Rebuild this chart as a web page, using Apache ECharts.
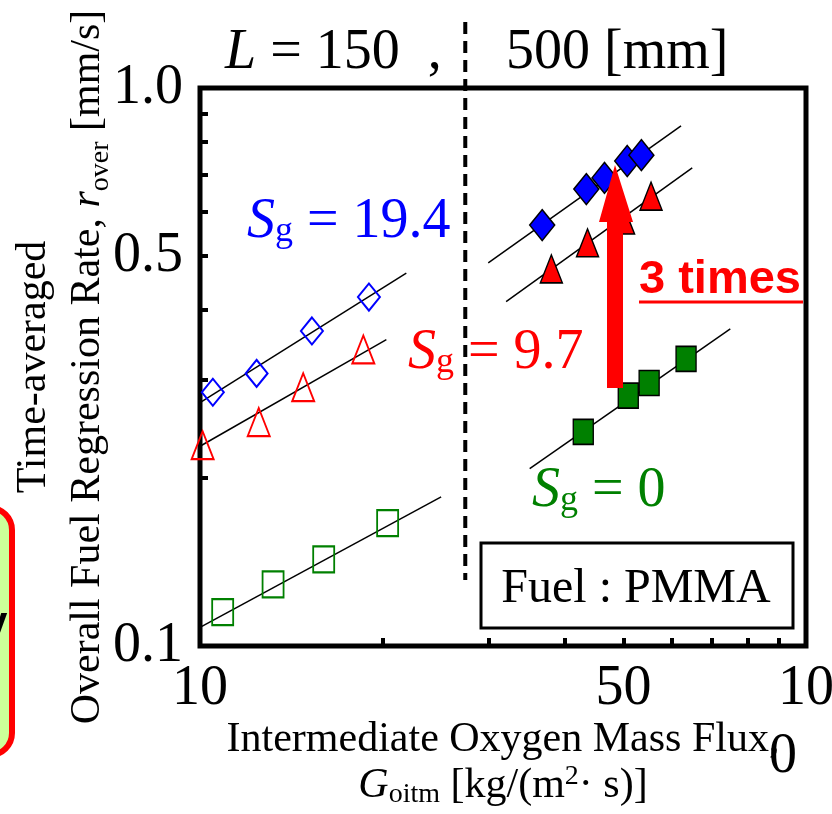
<!DOCTYPE html>
<html lang="en">
<head>
    <meta charset="utf-8"/>
    <title>Regression rate vs oxygen mass flux</title>
    <script src="https://cdn.jsdelivr.net/npm/echarts@6/dist/echarts.min.js"></script>
    <style>
        html, body { margin: 0; padding: 0; background: #fff; }
        #chart { width: 832px; height: 814px; }
    </style>
</head>
<body>
<div id="chart"></div>
<script type="text/javascript">

  // L = 150 mm, open markers
  var blueOpenG = [10.5, 12.4, 15.3, 19.0];
  var blueOpenR = [0.285, 0.308, 0.367, 0.422];
  var redOpenG = [10.1, 12.5, 14.8, 18.6];
  var redOpenR = [0.229, 0.252, 0.291, 0.340];
  var greenOpenG = [10.9, 13.2, 16.0, 20.4];
  var greenOpenR = [0.115, 0.129, 0.143, 0.166];

  // L = 500 mm, filled markers
  var blueFillG = [36.7, 43.4, 46.5, 50.7, 53.5];
  var blueFillR = [0.568, 0.659, 0.690, 0.740, 0.758];
  var redFillG = [38.0, 43.6, 50.0, 55.5];
  var redFillR = [0.474, 0.528, 0.580, 0.640];
  var greenFillG = [42.9, 50.9, 55.1, 63.4];
  var greenFillR = [0.242, 0.281, 0.296, 0.327];

  // fit lines, [G, r] end points
  var blueFit150 = [[10, 0.273], [21.9, 0.466]];
  var redFit150 = [[10, 0.228], [20.3, 0.354]];
  var greenFit150 = [[10, 0.108], [25.0, 0.185]];
  var blueFit500 = [[29.9, 0.486], [62.2, 0.855]];
  var redFit500 = [[32.0, 0.414], [64.9, 0.719]];
  var greenFit500 = [[35.0, 0.208], [75.0, 0.370]];

  // axis ticks / labels
  var xMinorTicks = [20, 30, 40, 50, 60, 70, 80, 90];
  var xLabels = [10, 50, 100];
  var yMinorTicks = [0.2, 0.3, 0.4, 0.5, 0.6, 0.7, 0.8, 0.9];
  var yLabels = [0.1, 0.5, 1.0];
  var lengthBoundaryG = 27.4;

  var SERIF = "'Liberation Serif', 'Times New Roman', serif";
  var SANS = "'Liberation Sans', Arial, sans-serif";

  function pairs(xs, ys) {
    return xs.map(function (x, i) { return [x, ys[i]]; });
  }

  function openSeries(xs, ys, symbol, size, color) {
    return {
      type: 'scatter', data: pairs(xs, ys), symbol: symbol, symbolSize: size, z: 4,
      itemStyle: { color: 'rgba(0,0,0,0)', borderColor: color, borderWidth: 2, opacity: 1 }
    };
  }

  function fillSeries(xs, ys, symbol, size, color) {
    return {
      type: 'scatter', data: pairs(xs, ys), symbol: symbol, symbolSize: size, z: 4,
      itemStyle: { color: color, borderColor: '#000', borderWidth: 1.5, opacity: 1 }
    };
  }

  function fitSeries(pts) {
    return {
      type: 'line', data: pts, showSymbol: false, silent: true, z: 3,
      lineStyle: { color: '#000', width: 1.5 }
    };
  }

  function sgText(x, y, value, color) {
    return {
      type: 'text', z: 100, x: x, y: y,
      style: {
        text: '{s|S}{g|g}{n| = ' + value + '}',
        align: 'left', verticalAlign: 'middle',
        rich: {
          s: { fontFamily: SERIF, fontSize: 56, fontStyle: 'italic', fill: color, lineHeight: 56, verticalAlign: 'bottom' },
          g: { fontFamily: SERIF, fontSize: 36, fill: color, lineHeight: 20, verticalAlign: 'bottom' },
          n: { fontFamily: SERIF, fontSize: 56, fill: color, lineHeight: 56, verticalAlign: 'bottom' }
        }
      }
    };
  }

  var chart = echarts.init(document.getElementById('chart'));

  var option = {
    animation: false,
    backgroundColor: '#fff',
    grid: {
      left: 200, right: 26, top: 88, bottom: 168,
      containLabel: false, outerBoundsMode: 'none',
      show: true, borderColor: '#000', borderWidth: 5, backgroundColor: 'rgba(0,0,0,0)'
    },
    xAxis: {
      type: 'log', logBase: 10, min: 10, max: 100,
      axisLine: { show: false },
      splitLine: { show: false },
      axisTick: {
        show: true, inside: true, length: 8, customValues: xMinorTicks,
        lineStyle: { color: '#000', width: 4 }
      },
      axisLabel: {
        customValues: xLabels, margin: 15, color: '#000',
        fontFamily: SERIF, fontSize: 56, hideOverlap: false,
        formatter: function (v) {
          if (Math.round(v) === 100) return '{a|10}\n{b|0}';
          return '{a|' + Math.round(v) + '}';
        },
        rich: {
          a: { fontFamily: SERIF, fontSize: 56, color: '#000', lineHeight: 56 },
          b: { fontFamily: SERIF, fontSize: 56, color: '#000', lineHeight: 80, padding: [0, 46, 0, 0] }
        }
      },
      name: '{n|Intermediate Oxygen Mass Flux,}\n{gi|G}{gs|oitm}{n| [kg/(m}{sup|2}{n|· s)]}',
      nameLocation: 'middle', nameGap: 71, nameMoveOverlap: false,
      nameTextStyle: {
        rich: {
          n: { fontFamily: SERIF, fontSize: 42, color: '#000', lineHeight: 46 },
          gi: { fontFamily: SERIF, fontSize: 42, fontStyle: 'italic', color: '#000', lineHeight: 46 },
          gs: { fontFamily: SERIF, fontSize: 28, color: '#000', lineHeight: 24, verticalAlign: 'bottom' },
          sup: { fontFamily: SERIF, fontSize: 28, color: '#000', lineHeight: 28, verticalAlign: 'top' }
        }
      }
    },
    yAxis: {
      type: 'log', logBase: 10, min: 0.1, max: 1,
      axisLine: { show: false },
      splitLine: { show: false },
      axisTick: {
        show: true, inside: true, length: 8, customValues: yMinorTicks,
        lineStyle: { color: '#000', width: 4 }
      },
      axisLabel: {
        customValues: yLabels, margin: 17, color: '#000',
        fontFamily: SERIF, fontSize: 56, hideOverlap: false,
        formatter: function (v) { return Number(v).toFixed(1); }
      },
      name: '{n|Time-averaged}\n{n|Overall Fuel Regression Rate, }{i|r}{s|over}{n| [mm/s]}',
      nameLocation: 'middle', nameRotate: 90, nameGap: 85, nameMoveOverlap: false,
      nameTextStyle: {
        rich: {
          n: { fontFamily: SERIF, fontSize: 42, color: '#000', lineHeight: 54 },
          i: { fontFamily: SERIF, fontSize: 42, fontStyle: 'italic', color: '#000', lineHeight: 54 },
          s: { fontFamily: SERIF, fontSize: 28, color: '#000', lineHeight: 27, verticalAlign: 'bottom' }
        }
      }
    },
    series: [
      fitSeries(blueFit150), fitSeries(redFit150), fitSeries(greenFit150),
      fitSeries(blueFit500), fitSeries(redFit500), fitSeries(greenFit500),
      openSeries(blueOpenG, blueOpenR, 'diamond', [22, 27], '#0000ff'),
      openSeries(redOpenG, redOpenR, 'triangle', [22, 28], '#ff0000'),
      openSeries(greenOpenG, greenOpenR, 'rect', [21, 26], '#008000'),
      fillSeries(blueFillG, blueFillR, 'diamond', [25, 31], '#0000ff'),
      fillSeries(redFillG, redFillR, 'triangle', [22, 28], '#ff0000'),
      fillSeries(greenFillG, greenFillR, 'rect', [20, 25], '#008000')
    ]
  };
  chart.setOption(option);

  var bx = chart.convertToPixel({ xAxisIndex: 0 }, lengthBoundaryG);

  chart.setOption({
    graphic: [
      // L boundary (dashed)
      {
        type: 'line', z: 50, shape: { x1: bx, y1: 22, x2: bx, y2: 580 },
        style: { stroke: '#000', lineWidth: 4, lineDash: [12, 7] }
      },
      {
        type: 'text', z: 100, x: 225, y: 53,
        style: {
          text: '{i|L}{n| = 150  ,}', align: 'left', verticalAlign: 'middle',
          rich: {
            i: { fontFamily: SERIF, fontSize: 56, fontStyle: 'italic', fill: '#000' },
            n: { fontFamily: SERIF, fontSize: 56, fill: '#000' }
          }
        }
      },
      {
        type: 'text', z: 100, x: 506, y: 53,
        style: { text: '500 [mm]', fontFamily: SERIF, fontSize: 56, fill: '#000', align: 'left', verticalAlign: 'middle' }
      },
      sgText(247, 222, '19.4', '#0000ff'),
      sgText(408, 353, '9.7', '#ff0000'),
      sgText(532, 491, '0', '#008000'),
      // red arrow
      {
        type: 'polygon', z: 60,
        shape: { points: [[607, 388], [607, 222], [599, 222], [615, 165], [633, 222], [623, 222], [623, 388]] },
        style: { fill: '#ff0000' }
      },
      {
        type: 'text', z: 100, x: 639, y: 280,
        style: { text: '3 times', fontFamily: SANS, fontSize: 47, fontWeight: 'bold', fill: '#ff0000', align: 'left', verticalAlign: 'middle' }
      },
      {
        type: 'line', z: 100, shape: { x1: 639, y1: 302, x2: 803, y2: 302 },
        style: { stroke: '#ff0000', lineWidth: 3 }
      },
      // fuel box
      {
        type: 'rect', z: 90, shape: { x: 481, y: 543, width: 312, height: 85 },
        style: { fill: '#fff', stroke: '#000', lineWidth: 3 }
      },
      {
        type: 'text', z: 100, x: 636, y: 589,
        style: { text: 'Fuel : PMMA', fontFamily: SERIF, fontSize: 48, fill: '#000', align: 'center', verticalAlign: 'middle' }
      },
      // cut-off box on the left edge
      {
        type: 'rect', z: 90, shape: { x: -40, y: 508, width: 52, height: 247, r: 22 },
        style: { fill: '#ccff99', stroke: '#ff0000', lineWidth: 6 }
      },
      {
        type: 'text', z: 100, x: -6, y: 630,
        style: { text: 'V', fontFamily: SANS, fontSize: 40, fontWeight: 'bold', fill: '#000', align: 'center', verticalAlign: 'middle' }
      }
    ]
  });
</script>
</body>
</html>
